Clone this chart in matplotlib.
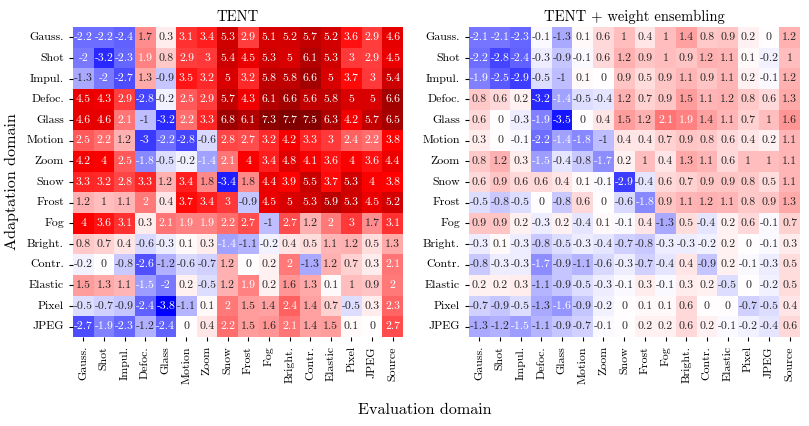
import matplotlib
matplotlib.use("Agg")
import matplotlib.pyplot as plt
import numpy as np
import seaborn as sns

plt.rcParams['font.family'] = 'serif'
plt.rcParams['font.serif'] = ['cmr10', 'DejaVu Serif']
plt.rcParams['axes.formatter.use_mathtext'] = True
plt.rcParams['axes.unicode_minus'] = False

rows = ["Gauss.", "Shot", "Impul.", "Defoc.", "Glass", "Motion", "Zoom", "Snow",
        "Frost", "Fog", "Bright.", "Contr.", "Elastic", "Pixel", "JPEG"]
cols = rows + ["Source"]

tent = [
    [-2.2, -2.2, -2.4, 1.7, 0.3, 3.1, 3.4, 5.3, 2.9, 5.1, 5.2, 5.7, 5.2, 3.6, 2.9, 4.6],
    [-2, -3.2, -2.3, 1.9, 0.8, 2.9, 3, 5.4, 4.5, 5.3, 5, 6.1, 5.3, 3, 2.9, 4.5],
    [-1.3, -2, -2.7, 1.3, -0.9, 3.5, 3.2, 5, 3.2, 5.8, 5.8, 6.6, 5, 3.7, 3, 5.4],
    [4.5, 4.3, 2.9, -2.8, -0.2, 2.5, 2.9, 5.7, 4.3, 6.1, 6.6, 5.6, 5.8, 5, 5, 6.6],
    [4.6, 4.6, 2.1, -1, -3.2, 2.2, 3.3, 6.8, 6.1, 7.3, 7.7, 7.5, 6.3, 4.2, 5.7, 6.5],
    [2.5, 2.2, 1.2, -3, -2.2, -2.8, -0.6, 2.8, 2.7, 3.2, 4.2, 3.3, 3, 2.4, 2.2, 3.8],
    [4.2, 4, 2.5, -1.8, -0.5, -0.2, -1.4, 2.1, 4, 3.4, 4.8, 4.1, 3.6, 4, 3.6, 4.4],
    [3.3, 3.2, 2.8, 3.3, 1.2, 3.4, 1.8, -3.4, 1.8, 4.4, 3.9, 5.5, 3.7, 5.3, 4, 3.8],
    [1.2, 1, 1.1, 2, 0.4, 3.7, 3.4, 3, -0.9, 4.5, 5, 5.3, 5.9, 5.3, 4.5, 5.2],
    [4, 3.6, 3.1, 0.3, 2.1, 1.9, 1.9, 2.2, 2.7, -1, 2.7, 1.2, 2, 3, 1.7, 3.1],
    [0.8, 0.7, 0.4, -0.6, -0.3, 0.1, 0.3, -1.4, -1.1, -0.2, 0.4, 0.5, 1.1, 1.2, 0.5, 1.3],
    [-0.2, 0, -0.8, -2.6, -1.2, -0.6, -0.7, 1.2, 0, 0.2, 2, -1.3, 1.2, 0.7, 0.3, 2.1],
    [1.5, 1.3, 1.1, -1.5, -2, 0.2, -0.5, 1.2, 1.9, 0.2, 1.6, 1.3, 0.1, 1, 0.9, 2],
    [-0.5, -0.7, -0.9, -2.4, -3.8, -1.1, 0.1, 2, 1.5, 1.4, 2.4, 1.4, 0.7, -0.5, 0.3, 2.3],
    [-2.7, -1.9, -2.3, -1.2, -2.4, 0, 0.4, 2.2, 1.5, 1.6, 2.1, 1.4, 1.5, 0.1, 0, 2.7],
]

tent_we = [
    [-2.1, -2.1, -2.3, -0.1, -1.3, 0.1, 0.6, 1, 0.4, 1, 1.4, 0.8, 0.9, 0.2, 0, 1.2],
    [-2.2, -2.8, -2.4, -0.3, -0.9, -0.1, 0.6, 1.2, 0.9, 1, 0.9, 1.2, 1.1, 0.1, -0.2, 1],
    [-1.9, -2.5, -2.9, -0.5, -1, 0.1, 0, 0.9, 0.5, 0.9, 1.1, 0.9, 1.1, 0.2, -0.1, 1.2],
    [0.8, 0.6, 0.2, -3.2, -1.4, -0.5, -0.4, 1.2, 0.7, 0.9, 1.5, 1.1, 1.2, 0.8, 0.6, 1.3],
    [0.6, 0, -0.3, -1.9, -3.5, 0, 0.4, 1.5, 1.2, 2.1, 1.9, 1.4, 1.1, 0.7, 1, 1.6],
    [0.3, 0, -0.1, -2.2, -1.4, -1.8, -1, 0.4, 0.4, 0.7, 0.9, 0.8, 0.6, 0.4, 0.2, 1.1],
    [0.8, 1.2, 0.3, -1.5, -0.4, -0.8, -1.7, 0.2, 1, 0.4, 1.3, 1.1, 0.6, 1, 1, 1.1],
    [0.6, 0.9, 0.6, 0.6, 0.4, 0.1, -0.1, -2.9, -0.4, 0.6, 0.7, 0.9, 0.9, 0.8, 0.5, 1.1],
    [-0.5, -0.8, -0.5, 0, -0.8, 0.6, 0, -0.6, -1.8, 0.9, 1.1, 1.2, 1.1, 0.8, 0.9, 1.3],
    [0.9, 0.9, 0.2, -0.3, 0.2, -0.4, 0.1, -0.1, 0.4, -1.3, 0.5, -0.4, 0.2, 0.6, -0.1, 0.7],
    [-0.3, 0.1, -0.3, -0.8, -0.5, -0.3, -0.4, -0.7, -0.8, -0.3, -0.3, -0.2, 0.2, 0, -0.1, 0.3],
    [-0.8, -0.3, -0.3, -1.7, -0.9, -1.1, -0.6, -0.3, -0.7, -0.4, 0.4, -0.9, 0.2, -0.1, -0.3, 0.5],
    [0.2, 0.2, 0.3, -1.1, -0.9, -0.5, -0.3, -0.1, 0.3, -0.1, 0.3, 0.2, -0.5, 0, -0.2, 0.5],
    [-0.7, -0.9, -0.5, -1.3, -1.6, -0.9, -0.2, 0, 0.1, 0.1, 0.6, 0, 0, -0.7, -0.5, 0.4],
    [-1.3, -1.2, -1.5, -1.1, -0.9, -0.7, -0.1, 0, 0.2, 0.2, 0.6, 0.2, -0.1, -0.2, -0.4, 0.6],
]

titles = ["TENT", "TENT + weight ensembling"]

W, H = 809, 426
fig = plt.figure(figsize=(W / 100, H / 100), dpi=100)
ax1 = fig.add_axes([73 / W, 1 - 337 / H, 330 / W, 310 / H])
ax2 = fig.add_axes([469 / W, 1 - 337 / H, 331 / W, 310 / H])

vmax = float(np.max(np.abs(np.array(tent))))
for ax, data, title in zip([ax1, ax2], [tent, tent_we], titles):
    sns.heatmap(np.array(data), ax=ax, cmap="seismic", vmin=-vmax, vmax=vmax,
                annot=True, fmt="g", cbar=False, square=False,
                annot_kws={"fontsize": 8.5},
                xticklabels=cols, yticklabels=rows)
    ax.set_title(title, fontsize=10.5, pad=4)
    ax.tick_params(axis="both", labelsize=8.6, length=3)
    ax.set_xticklabels(cols, rotation=90)
    ax.set_yticklabels(rows, rotation=0)

fig.text(425 / W, 1 - 410 / H, "Evaluation domain", ha="center", va="center", fontsize=11.6)
fig.text(12 / W, 1 - 182 / H, "Adaptation domain", ha="center", va="center",
         rotation=90, fontsize=11.6)

fig.savefig("out.png", dpi=100)
